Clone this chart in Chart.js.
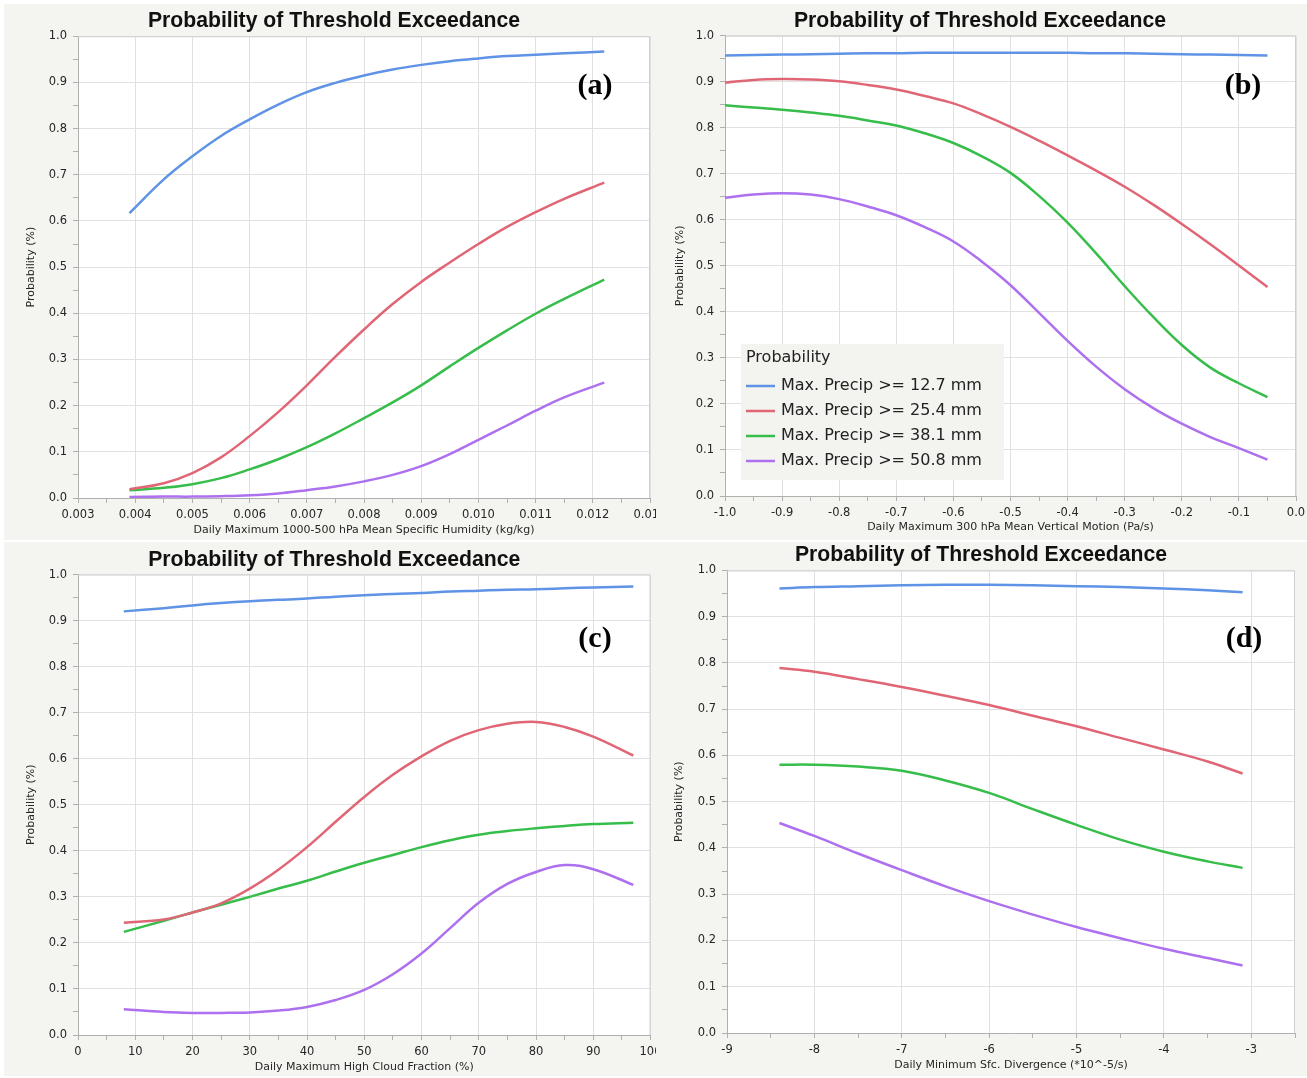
<!DOCTYPE html>
<html>
<head>
<meta charset="utf-8">
<title>Probability of Threshold Exceedance</title>
<script src="https://cdn.jsdelivr.net/npm/chart.js@4.4.1/dist/chart.umd.min.js"></script>
<style>
  body { margin: 0; background: #ffffff; width: 1307px; height: 1078px; position: relative; overflow: hidden; }
  .panel { position: absolute; background: #f4f4f0; }
  .panel canvas { display: block; }
</style>
</head>
<body>
<div class="panel" style="left:4px;top:4px;width:652px;height:536px"><canvas id="chartA" width="652" height="536"></canvas></div>
<div class="panel" style="left:656px;top:4px;width:651px;height:536px"><canvas id="chartB" width="651" height="536"></canvas></div>
<div class="panel" style="left:4px;top:542px;width:652px;height:534px"><canvas id="chartC" width="652" height="534"></canvas></div>
<div class="panel" style="left:656px;top:542px;width:651px;height:534px"><canvas id="chartD" width="651" height="534"></canvas></div>

<script>
// ---- series labels / colours
const seriesLabels = ['Max. Precip >= 12.7 mm', 'Max. Precip >= 25.4 mm', 'Max. Precip >= 38.1 mm', 'Max. Precip >= 50.8 mm'];
const seriesColors = ['#5f93e6', '#e06676', '#36bd4a', '#ad70ee'];

// ---- (a) specific humidity
const humidityX = [0.0039, 0.0045, 0.005, 0.0055, 0.006, 0.0065, 0.007, 0.0075, 0.008, 0.0085, 0.009, 0.0095, 0.010, 0.0105, 0.011, 0.0115, 0.0122];
const humidity127 = [0.617, 0.690, 0.740, 0.784, 0.820, 0.852, 0.879, 0.899, 0.915, 0.928, 0.938, 0.946, 0.952, 0.957, 0.960, 0.963, 0.967];
const humidity254 = [0.019, 0.032, 0.054, 0.088, 0.134, 0.186, 0.244, 0.306, 0.365, 0.420, 0.468, 0.510, 0.550, 0.587, 0.619, 0.648, 0.683];
const humidity381 = [0.017, 0.022, 0.030, 0.043, 0.062, 0.084, 0.110, 0.140, 0.173, 0.207, 0.244, 0.285, 0.325, 0.363, 0.399, 0.431, 0.473];
const humidity508 = [0.002, 0.003, 0.003, 0.004, 0.006, 0.010, 0.017, 0.025, 0.036, 0.050, 0.069, 0.095, 0.126, 0.157, 0.189, 0.218, 0.250];

// ---- (b) vertical motion
const motionX = [-1.0, -0.95, -0.9, -0.85, -0.8, -0.75, -0.7, -0.65, -0.6, -0.55, -0.5, -0.45, -0.4, -0.35, -0.3, -0.25, -0.2, -0.15, -0.1, -0.05];
const motion127 = [0.957, 0.958, 0.959, 0.960, 0.961, 0.962, 0.962, 0.963, 0.963, 0.963, 0.963, 0.963, 0.963, 0.962, 0.962, 0.961, 0.960, 0.959, 0.958, 0.957];
const motion254 = [0.898, 0.904, 0.906, 0.905, 0.901, 0.893, 0.883, 0.869, 0.853, 0.829, 0.802, 0.772, 0.740, 0.707, 0.672, 0.633, 0.591, 0.547, 0.501, 0.454];
const motion381 = [0.849, 0.844, 0.839, 0.833, 0.826, 0.816, 0.805, 0.788, 0.767, 0.738, 0.702, 0.652, 0.594, 0.527, 0.456, 0.389, 0.328, 0.279, 0.245, 0.215];
const motion508 = [0.648, 0.655, 0.658, 0.655, 0.645, 0.629, 0.610, 0.584, 0.553, 0.509, 0.458, 0.398, 0.337, 0.281, 0.232, 0.191, 0.157, 0.128, 0.104, 0.079];

// ---- (c) high cloud fraction
const cloudX = [8, 15, 20, 25, 30, 35, 40, 45, 50, 55, 60, 65, 70, 75, 80, 85, 90, 97];
const cloud127 = [0.920, 0.927, 0.933, 0.938, 0.942, 0.945, 0.948, 0.952, 0.955, 0.958, 0.960, 0.963, 0.965, 0.967, 0.968, 0.970, 0.972, 0.974];
const cloud254 = [0.244, 0.251, 0.266, 0.286, 0.318, 0.359, 0.408, 0.463, 0.517, 0.565, 0.605, 0.639, 0.662, 0.676, 0.680, 0.669, 0.648, 0.607];
const cloud381 = [0.224, 0.248, 0.266, 0.283, 0.300, 0.318, 0.335, 0.355, 0.374, 0.391, 0.408, 0.423, 0.435, 0.443, 0.449, 0.454, 0.458, 0.461];
const cloud508 = [0.056, 0.050, 0.048, 0.048, 0.049, 0.053, 0.061, 0.076, 0.098, 0.132, 0.177, 0.232, 0.287, 0.328, 0.354, 0.369, 0.360, 0.326];

// ---- (d) surface divergence
const divergenceX = [-8.4, -8, -7.5, -7, -6.5, -6, -5.5, -5, -4.5, -4, -3.5, -3.1];
const divergence127 = [0.961, 0.964, 0.966, 0.968, 0.969, 0.969, 0.968, 0.966, 0.964, 0.961, 0.957, 0.953];
const divergence254 = [0.789, 0.781, 0.765, 0.748, 0.729, 0.709, 0.686, 0.663, 0.638, 0.613, 0.587, 0.561];
const divergence381 = [0.580, 0.580, 0.576, 0.567, 0.546, 0.519, 0.484, 0.450, 0.418, 0.392, 0.371, 0.357];
const divergence508 = [0.454, 0.426, 0.388, 0.352, 0.317, 0.285, 0.256, 0.229, 0.205, 0.182, 0.162, 0.146];

const FONT = 'DejaVu Sans';
const TEXT = '#262626';
const GRID = '#e1e1e1';
const AXIS = '#b0b0b0';

function isMajor(v, step) {
    const r = v / step;
    return Math.abs(r - Math.round(r)) < 1e-6;
}

// plot area: white fill + thin frame
Chart.register({
    id: 'plotFrame',
    beforeDraw(chart) {
        const { ctx, chartArea: a } = chart;
        ctx.save();
        ctx.fillStyle = '#ffffff';
        ctx.fillRect(a.left, a.top, a.right - a.left, a.bottom - a.top);
        ctx.restore();
    },
    beforeDatasetsDraw(chart) {
        const { ctx, chartArea: a } = chart;
        ctx.save();
        ctx.strokeStyle = '#cfcfcf';
        ctx.lineWidth = 1;
        ctx.beginPath();
        ctx.moveTo(a.left, a.top + 0.5);
        ctx.lineTo(a.right - 0.5, a.top + 0.5);
        ctx.lineTo(a.right - 0.5, a.bottom);
        ctx.stroke();
        ctx.restore();
    }
});

// (a) (b) (c) (d) tags
Chart.register({
    id: 'panelTag',
    afterDraw(chart, args, opts) {
        if (!opts.text) return;
        const ctx = chart.ctx;
        ctx.save();
        ctx.font = 'bold 30px "Liberation Serif", "DejaVu Serif", serif';
        ctx.fillStyle = '#000';
        ctx.textAlign = 'center';
        ctx.textBaseline = 'middle';
        ctx.fillText(opts.text, opts.x, opts.y);
        ctx.restore();
    }
});

// boxed legend inside the plot area (panel b)
Chart.register({
    id: 'boxLegend',
    afterDatasetsDraw(chart, args, opts) {
        if (!opts.show) return;
        const { ctx, chartArea: a } = chart;
        const x0 = a.left + 16, y0 = a.bottom - 152;
        ctx.save();
        ctx.fillStyle = '#f3f3ef';
        ctx.fillRect(x0, y0, 263, 136);
        ctx.font = '16px "' + FONT + '"';
        ctx.textBaseline = 'middle';
        ctx.fillStyle = '#222';
        ctx.fillText('Probability', x0 + 5, y0 + 14);
        chart.data.datasets.forEach((ds, i) => {
            const y = y0 + 42 + i * 25;
            ctx.strokeStyle = ds.borderColor;
            ctx.lineWidth = 2.5;
            ctx.beginPath();
            ctx.moveTo(x0 + 5, y);
            ctx.lineTo(x0 + 34, y);
            ctx.stroke();
            ctx.fillStyle = '#222';
            ctx.fillText(ds.label, x0 + 40, y);
        });
        ctx.restore();
    }
});

function makeDatasets(xs, series) {
    return series.map((ys, i) => ({
        label: seriesLabels[i],
        data: xs.map((x, j) => ({ x: x, y: ys[j] })),
        borderColor: seriesColors[i],
        backgroundColor: seriesColors[i],
        borderWidth: 2.5,
        pointRadius: 0,
        tension: 0.4,
        fill: false
    }));
}

function makeChart(id, p) {
    new Chart(document.getElementById(id), {
        type: 'line',
        data: { datasets: makeDatasets(p.xs, p.series) },
        options: {
            responsive: false,
            animation: false,
            events: [],
            layout: { padding: { left: p.padLeft, right: p.padRight, top: 0, bottom: 0 } },
            plugins: {
                legend: { display: false },
                tooltip: { enabled: false },
                title: {
                    display: true,
                    text: 'Probability of Threshold Exceedance',
                    color: '#111',
                    font: { family: 'Liberation Sans', size: 21.2, weight: 'bold', lineHeight: 1.2 },
                    padding: { top: p.titleTop, bottom: p.titleBottom }
                },
                panelTag: p.tag,
                boxLegend: { show: !!p.legend }
            },
            scales: {
                x: {
                    type: 'linear',
                    min: p.xMin,
                    max: p.xMax,
                    afterFit: s => { s.height = p.xHeight; s.paddingLeft = 0; s.paddingRight = 0; },
                    ticks: {
                        stepSize: p.xStep / 2,
                        autoSkip: false,
                        maxRotation: 0,
                        padding: 5,
                        color: TEXT,
                        font: { family: FONT, size: 11.5 },
                        callback: v => isMajor(v, p.xStep) ? p.xFmt(v) : ''
                    },
                    grid: {
                        color: c => (c.tick && isMajor(c.tick.value, p.xStep)) ? GRID : 'rgba(0,0,0,0)',
                        tickColor: AXIS,
                        tickLength: 5
                    },
                    border: { color: AXIS },
                    title: {
                        display: true,
                        text: p.xTitle,
                        color: TEXT,
                        font: { family: FONT, size: 11 },
                        padding: { top: 0, bottom: p.xTitlePad }
                    }
                },
                y: {
                    type: 'linear',
                    min: 0,
                    max: 1,
                    afterFit: s => { s.width = p.yWidth; s.paddingTop = 0; s.paddingBottom = 0; },
                    ticks: {
                        stepSize: 0.05,
                        autoSkip: false,
                        padding: 6,
                        color: TEXT,
                        font: { family: FONT, size: 11.5 },
                        callback: v => isMajor(v, 0.1) ? v.toFixed(1) : ''
                    },
                    grid: {
                        color: c => (c.tick && isMajor(c.tick.value, 0.1)) ? GRID : 'rgba(0,0,0,0)',
                        tickColor: AXIS,
                        tickLength: 5
                    },
                    border: { color: AXIS },
                    title: {
                        display: true,
                        text: 'Probability (%)',
                        color: TEXT,
                        font: { family: FONT, size: 11 },
                        padding: { top: p.yTitlePad, bottom: 0 }
                    }
                }
            }
        }
    });
}

const fmt1 = v => (Math.abs(v) < 1e-9 ? 0 : v).toFixed(1);

makeChart('chartA', {
    xs: humidityX, series: [humidity127, humidity254, humidity381, humidity508],
    xMin: 0.003, xMax: 0.013, xStep: 0.001, xFmt: v => v.toFixed(3),
    xTitle: 'Daily Maximum 1000-500 hPa Mean Specific Humidity (kg/kg)',
    padLeft: 14, padRight: 6, titleTop: 4, titleBottom: 2.8,
    yWidth: 60, yTitlePad: 7, xHeight: 42, xTitlePad: 3.4,
    tag: { text: '(a)', x: 591, y: 82 }
});

makeChart('chartB', {
    xs: motionX, series: [motion127, motion254, motion381, motion508],
    xMin: -1, xMax: 0, xStep: 0.1, xFmt: fmt1,
    xTitle: 'Daily Maximum 300 hPa Mean Vertical Motion (Pa/s)',
    padLeft: 8, padRight: 11, titleTop: 4, titleBottom: 2.3,
    yWidth: 61, yTitlePad: 9.4, xHeight: 44, xTitlePad: 6.4,
    tag: { text: '(b)', x: 587, y: 82 },
    legend: true
});

makeChart('chartC', {
    xs: cloudX, series: [cloud127, cloud254, cloud381, cloud508],
    xMin: 0, xMax: 100, xStep: 10, xFmt: v => String(Math.round(v)),
    xTitle: 'Daily Maximum High Cloud Fraction (%)',
    padLeft: 14, padRight: 5.5, titleTop: 5, titleBottom: 2.1,
    yWidth: 60, yTitlePad: 7, xHeight: 41, xTitlePad: 2.6,
    tag: { text: '(c)', x: 591, y: 97.5 }
});

makeChart('chartD', {
    xs: divergenceX, series: [divergence127, divergence254, divergence381, divergence508],
    xMin: -9, xMax: -2.5, xStep: 1, xFmt: v => String(Math.round(v)),
    xTitle: 'Daily Minimum Sfc. Divergence (*10^-5/s)',
    padLeft: 11, padRight: 12, titleTop: 0.8, titleBottom: 2.2,
    yWidth: 60, yTitlePad: 5.4, xHeight: 43, xTitlePad: 4.4,
    tag: { text: '(d)', x: 588, y: 97.5 }
});
</script>
</body>
</html>
